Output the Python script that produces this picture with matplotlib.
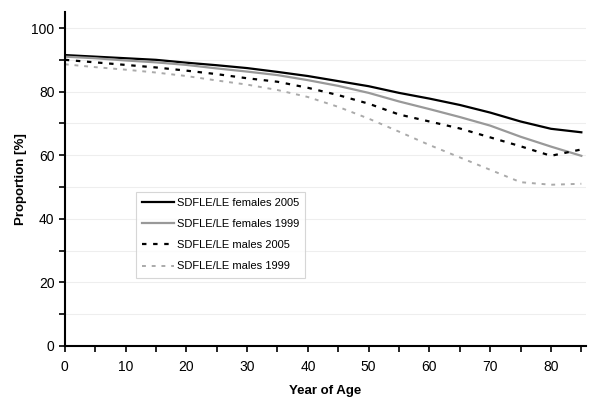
import matplotlib
matplotlib.use("Agg")
import matplotlib.pyplot as plt
from matplotlib.ticker import MultipleLocator

ages = [0, 5, 10, 15, 20, 25, 30, 35, 40, 45, 50, 55, 60, 65, 70, 75, 80, 85]
females_2005 = [91.5, 91.0, 90.5, 90.0, 89.1, 88.3, 87.4, 86.2, 84.9, 83.3, 81.7, 79.6, 77.8, 75.8, 73.4, 70.6, 68.3, 67.2]
females_1999 = [91.0, 90.5, 89.8, 89.2, 88.4, 87.3, 86.3, 85.2, 83.6, 81.8, 79.6, 76.9, 74.5, 72.0, 69.3, 65.8, 62.7, 59.8]
males_2005 = [90.0, 89.2, 88.4, 87.6, 86.6, 85.5, 84.2, 83.1, 81.2, 78.9, 76.2, 72.8, 70.6, 68.4, 65.6, 62.8, 59.8, 61.8]
males_1999 = [88.6, 87.7, 86.9, 86.0, 84.9, 83.5, 82.2, 80.5, 78.3, 75.2, 71.5, 67.4, 63.2, 59.3, 55.4, 51.5, 50.7, 51.0]
labels = ["SDFLE/LE females 2005", "SDFLE/LE females 1999",
          "SDFLE/LE males 2005", "SDFLE/LE males 1999"]

plt.rcParams['font.family'] = ['Liberation Sans', 'DejaVu Sans']
fig = plt.figure(figsize=(6, 4.05), dpi=100)
ax = fig.add_axes([0.108, 0.146, 0.869, 0.824])

ax.plot(ages, females_2005, color='black', lw=1.6, label=labels[0])
ax.plot(ages, females_1999, color='#999999', lw=1.6, label=labels[1])
ax.plot(ages, males_2005, color='black', lw=1.6, ls=(0, (2, 3)), label=labels[2])
ax.plot(ages, males_1999, color='#aaaaaa', lw=1.4, ls=(0, (2, 3)), label=labels[3])

ax.set_xlim(0, 85.8)
ax.set_ylim(0, 105)
ax.xaxis.set_major_locator(MultipleLocator(10))
ax.xaxis.set_minor_locator(MultipleLocator(5))
ax.yaxis.set_major_locator(MultipleLocator(20))
ax.yaxis.set_minor_locator(MultipleLocator(10))
ax.grid(axis='y', which='both', color='#eeeeee', lw=0.8)
ax.set_axisbelow(True)
for s in ['top', 'right']:
    ax.spines[s].set_visible(False)
for s in ['left', 'bottom']:
    ax.spines[s].set_linewidth(1.5)
ax.tick_params(which='both', direction='out', width=1.2, length=4, labelsize=10)
ax.tick_params(axis='x', pad=6)
ax.set_xlabel('Year of Age', fontsize=9.5, fontweight='bold', labelpad=8)
ax.set_ylabel('Proportion [%]', fontsize=9.5, fontweight='bold', labelpad=3)

leg = ax.legend(loc='upper left', bbox_to_anchor=(0.136, 0.461), fontsize=8,
                frameon=True, fancybox=False, handlelength=2.9, handletextpad=0.27,
                labelspacing=1.0, borderpad=0.55, borderaxespad=0)
leg.get_frame().set_edgecolor('#cccccc')
leg.get_frame().set_linewidth(0.8)

fig.savefig('out.png', dpi=100)
